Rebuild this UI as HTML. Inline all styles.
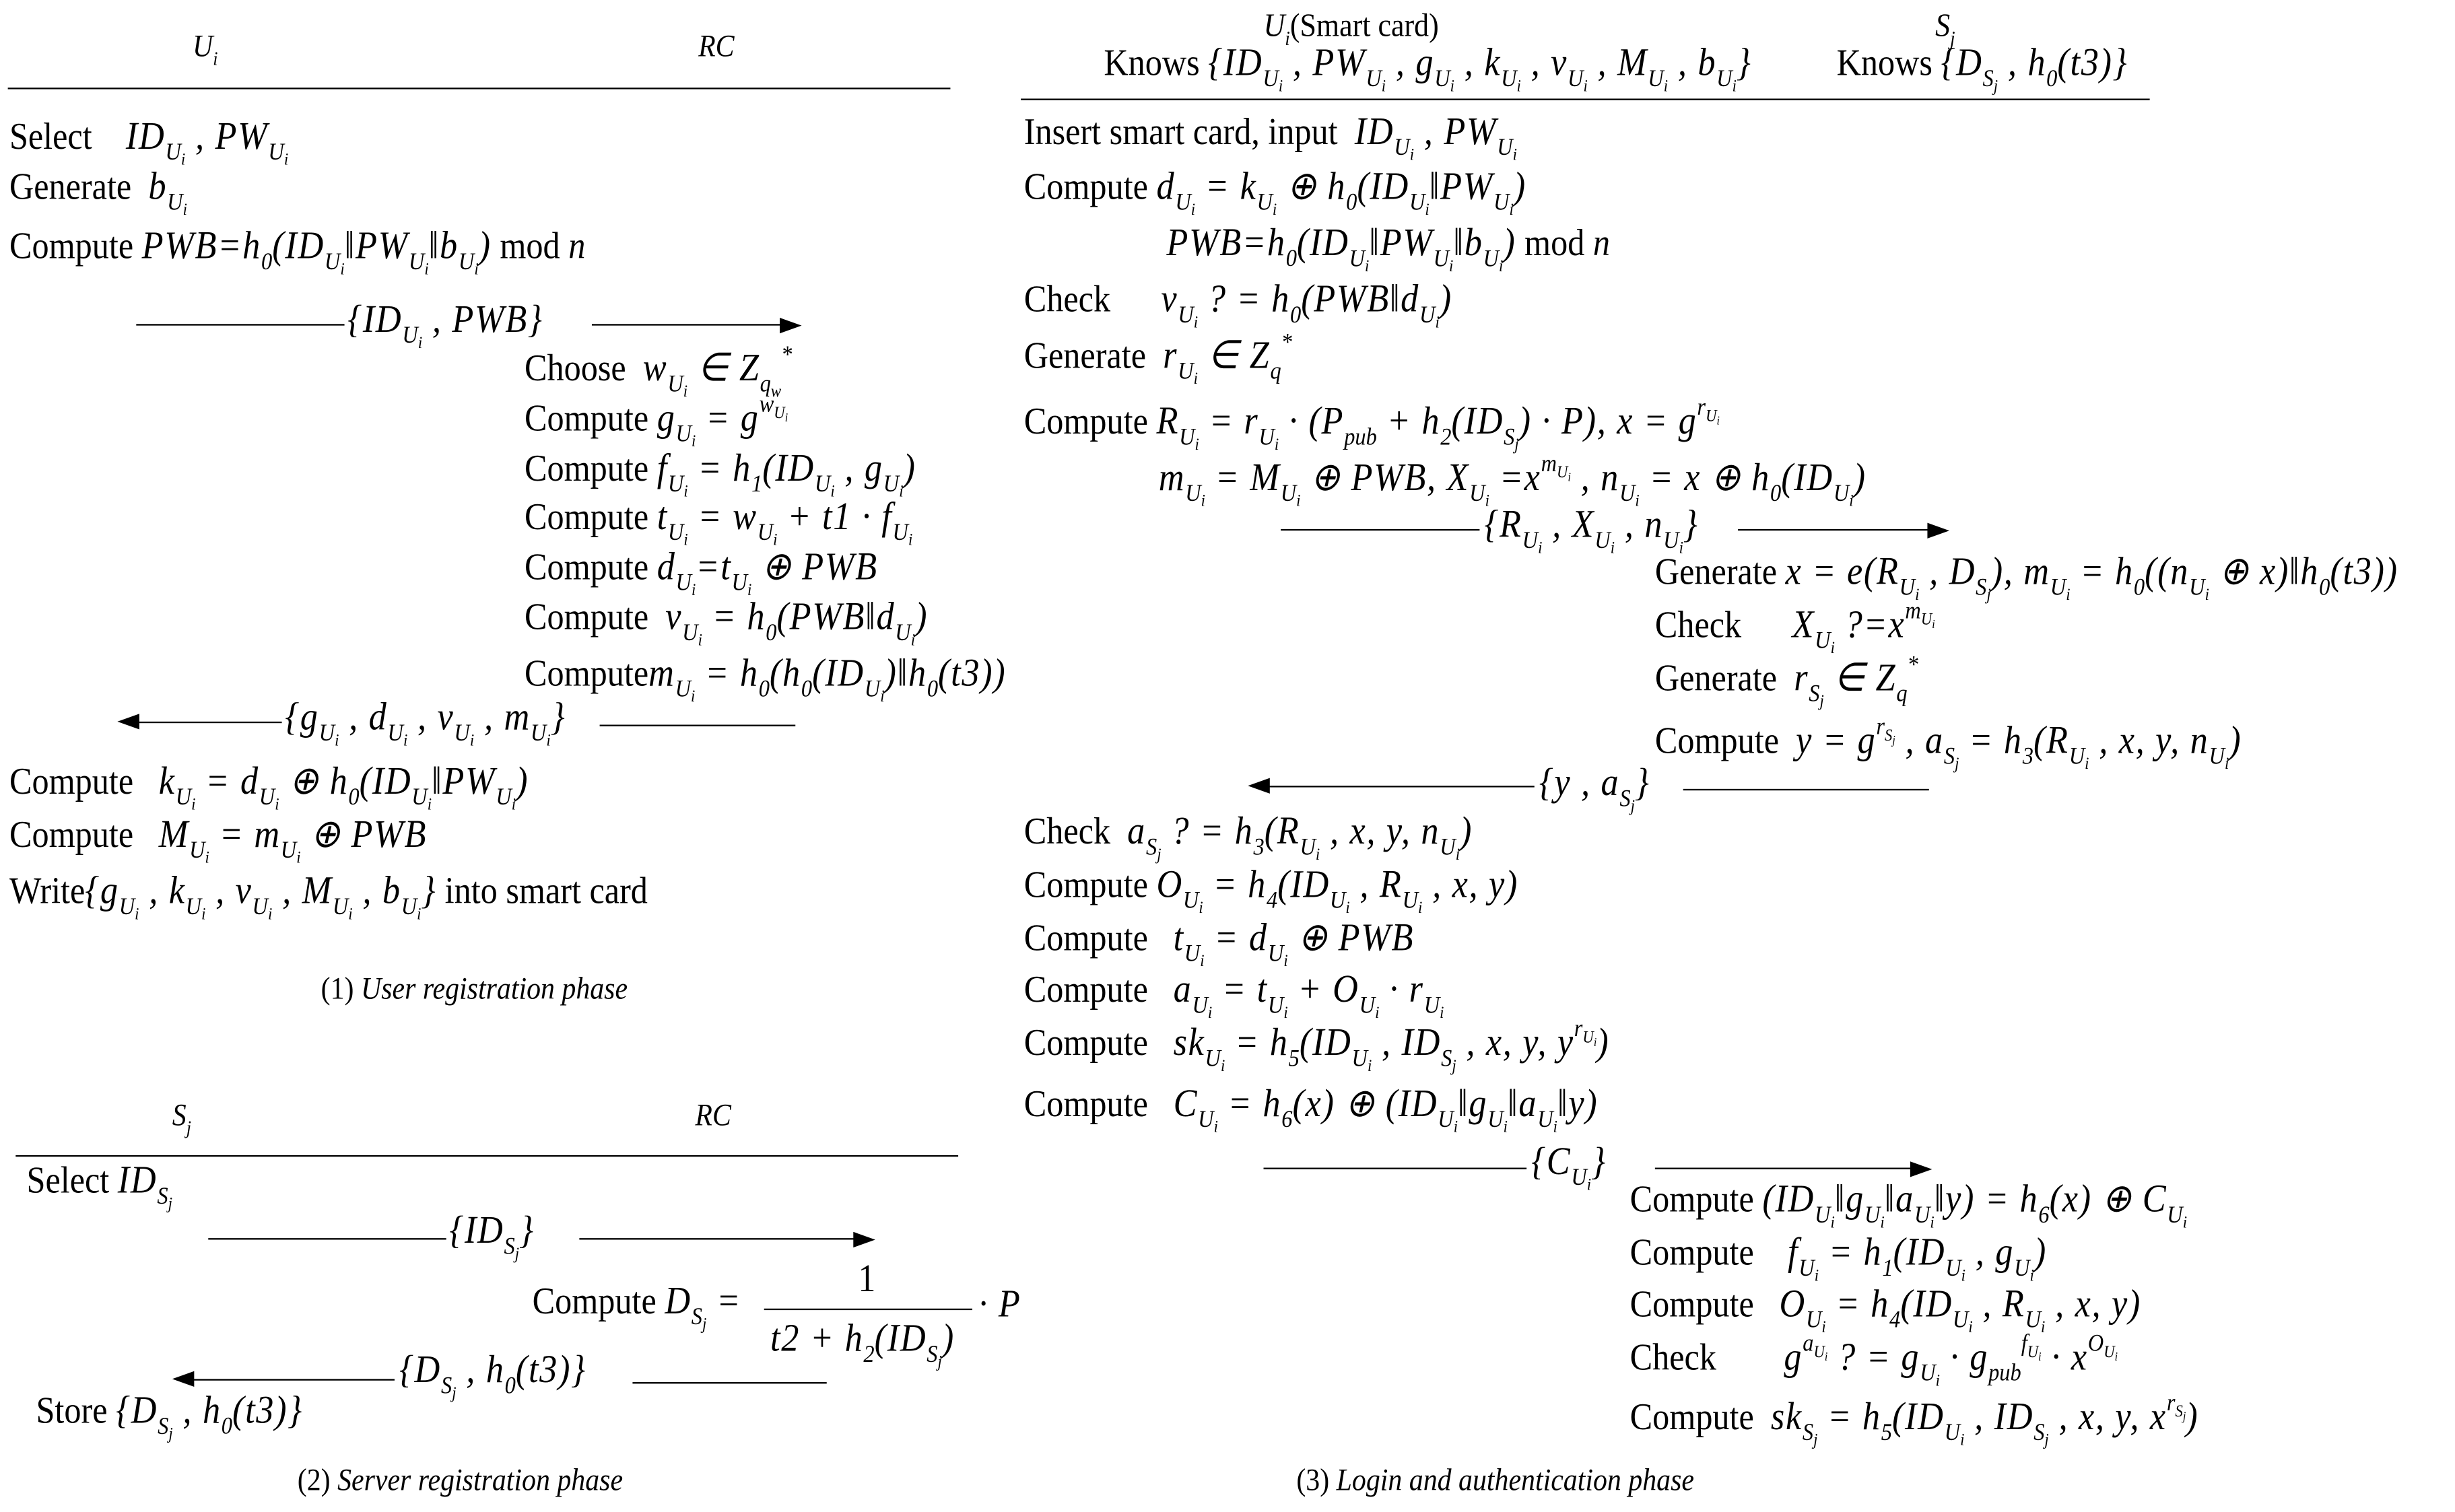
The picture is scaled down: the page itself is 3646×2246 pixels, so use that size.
<!DOCTYPE html>
<html><head><meta charset="utf-8"><style>
html,body{margin:0;padding:0;background:#fff;}
#w{position:absolute;left:0;top:0;width:1568px;height:966px;transform:scale(2.3253,2.3251);transform-origin:0 0;font-family:"Liberation Serif",serif;color:#000;}
.t{position:absolute;white-space:nowrap;font-size:24px;line-height:24px;transform:scaleX(.9);transform-origin:0 0;margin-top:-2px;}
.t i{font-style:italic;}
.m{font-style:italic;font-size:25px;letter-spacing:.8px;}
sub,sup{font-size:62%;line-height:0;letter-spacing:0;}
sub{vertical-align:-0.45em;}
sup{vertical-align:0.75em;}
sub sub{font-size:70%;vertical-align:-0.3em;}
sup sub{font-size:70%;vertical-align:-0.3em;}
.cap{font-size:20px;}
.l{position:absolute;height:0;border-top:1.6px solid #000;}
.ar{position:absolute;width:0;height:0;border-top:5px solid transparent;border-bottom:5px solid transparent;}
.r{border-left:14px solid #000;}
.lf{border-right:14px solid #000;}
</style></head><body><div id="w">

<!-- Section 1 -->
<div class="t" style="left:123px;top:20px;font-size:20px"><i>U<sub>i</sub></i></div>
<div class="t" style="left:446px;top:20px;font-size:20px"><i>RC</i></div>
<div class="l" style="left:5px;width:602px;top:56px"></div>
<div class="t" style="left:6px;top:78px">Select &nbsp;&nbsp;&nbsp;<span class="m">ID<sub>U<sub>i</sub></sub> , PW<sub>U<sub>i</sub></sub></span></div>
<div class="t" style="left:6px;top:110px">Generate &nbsp;<span class="m">b<sub>U<sub>i</sub></sub></span></div>
<div class="t" style="left:6px;top:148px">Compute <span class="m">PWB=h<sub>0</sub>(ID<sub>U<sub>i</sub></sub>‖PW<sub>U<sub>i</sub></sub>‖b<sub>U<sub>i</sub></sub>)</span> mod <i>n</i></div>
<div class="l" style="left:87px;width:133px;top:207px"></div>
<div class="t" style="left:222px;top:195px"><span class="m">{ID<sub>U<sub>i</sub></sub> , PWB}</span></div>
<div class="l" style="left:378px;width:122px;top:207px"></div><div class="ar r" style="left:498px;top:203px"></div>
<div class="t" style="left:335px;top:226px">Choose &nbsp;<span class="m">w<sub>U<sub>i</sub></sub> ∈ Z<sub>q<sub>w</sub></sub><sup>*</sup></span></div>
<div class="t" style="left:335px;top:258px">Compute <span class="m">g<sub>U<sub>i</sub></sub> = g<sup>w<sub>U<sub>i</sub></sub></sup></span></div>
<div class="t" style="left:335px;top:290px">Compute <span class="m">f<sub>U<sub>i</sub></sub> = h<sub>1</sub>(ID<sub>U<sub>i</sub></sub> , g<sub>U<sub>i</sub></sub>)</span></div>
<div class="t" style="left:335px;top:321px">Compute <span class="m">t<sub>U<sub>i</sub></sub> = w<sub>U<sub>i</sub></sub> + t1 · f<sub>U<sub>i</sub></sub></span></div>
<div class="t" style="left:335px;top:353px">Compute <span class="m">d<sub>U<sub>i</sub></sub>=t<sub>U<sub>i</sub></sub> ⊕ PWB</span></div>
<div class="t" style="left:335px;top:385px">Compute &nbsp;<span class="m">v<sub>U<sub>i</sub></sub> = h<sub>0</sub>(PWB‖d<sub>U<sub>i</sub></sub>)</span></div>
<div class="t" style="left:335px;top:421px">Compute<span class="m">m<sub>U<sub>i</sub></sub> = h<sub>0</sub>(h<sub>0</sub>(ID<sub>U<sub>i</sub></sub>)‖h<sub>0</sub>(t3))</span></div>
<div class="ar lf" style="left:75px;top:456px"></div><div class="l" style="left:87px;width:93px;top:461px"></div>
<div class="t" style="left:182px;top:449px"><span class="m">{g<sub>U<sub>i</sub></sub> , d<sub>U<sub>i</sub></sub> , v<sub>U<sub>i</sub></sub> , m<sub>U<sub>i</sub></sub>}</span></div>
<div class="l" style="left:383px;width:125px;top:463px"></div>
<div class="t" style="left:6px;top:490px">Compute &nbsp;&nbsp;<span class="m">k<sub>U<sub>i</sub></sub> = d<sub>U<sub>i</sub></sub> ⊕ h<sub>0</sub>(ID<sub>U<sub>i</sub></sub>‖PW<sub>U<sub>i</sub></sub>)</span></div>
<div class="t" style="left:6px;top:524px">Compute &nbsp;&nbsp;<span class="m">M<sub>U<sub>i</sub></sub> = m<sub>U<sub>i</sub></sub> ⊕ PWB</span></div>
<div class="t" style="left:6px;top:560px">Write<span class="m">{g<sub>U<sub>i</sub></sub> , k<sub>U<sub>i</sub></sub> , v<sub>U<sub>i</sub></sub> , M<sub>U<sub>i</sub></sub> , b<sub>U<sub>i</sub></sub>}</span> into smart card</div>
<div class="t cap" style="left:205px;top:622px">(1) <i>User registration phase</i></div>

<!-- Section 2 -->
<div class="t" style="left:110px;top:703px;font-size:20px"><i>S<sub>j</sub></i></div>
<div class="t" style="left:444px;top:703px;font-size:20px"><i>RC</i></div>
<div class="l" style="left:10px;width:602px;top:738px"></div>
<div class="t" style="left:17px;top:745px">Select <span class="m">ID<sub>S<sub>j</sub></sub></span></div>
<div class="l" style="left:133px;width:152px;top:791px"></div>
<div class="t" style="left:287px;top:777px"><span class="m">{ID<sub>S<sub>j</sub></sub>}</span></div>
<div class="l" style="left:370px;width:177px;top:791px"></div><div class="ar r" style="left:545px;top:787px"></div>
<div class="t" style="left:340px;top:822px">Compute <span class="m">D<sub>S<sub>j</sub></sub> =</span></div>
<div class="t" style="left:548px;top:808px"><span class="m" style="font-style:normal">1</span></div>
<div class="l" style="left:488px;width:133px;top:836px;border-top-width:1.3px"></div>
<div class="t" style="left:492px;top:846px"><span class="m">t2 + h<sub>2</sub>(ID<sub>S<sub>j</sub></sub>)</span></div>
<div class="t" style="left:625px;top:824px"><span class="m">· P</span></div>
<div class="ar lf" style="left:110px;top:876px"></div><div class="l" style="left:122px;width:130px;top:881px"></div>
<div class="t" style="left:255px;top:866px"><span class="m">{D<sub>S<sub>j</sub></sub> , h<sub>0</sub>(t3)}</span></div>
<div class="l" style="left:404px;width:124px;top:883px"></div>
<div class="t" style="left:23px;top:892px">Store <span class="m">{D<sub>S<sub>j</sub></sub> , h<sub>0</sub>(t3)}</span></div>
<div class="t cap" style="left:190px;top:936px">(2) <i>Server registration phase</i></div>

<!-- Section 3 -->
<div class="t" style="left:807px;top:6px;font-size:21px"><i>U<sub>i</sub></i>(Smart card)</div>
<div class="t" style="left:1236px;top:6px;font-size:21px"><i>S<sub>j</sub></i></div>
<div class="t" style="left:705px;top:31px">Knows <span class="m">{ID<sub>U<sub>i</sub></sub> , PW<sub>U<sub>i</sub></sub> , g<sub>U<sub>i</sub></sub> , k<sub>U<sub>i</sub></sub> , v<sub>U<sub>i</sub></sub> , M<sub>U<sub>i</sub></sub> , b<sub>U<sub>i</sub></sub>}</span></div>
<div class="t" style="left:1173px;top:31px">Knows <span class="m">{D<sub>S<sub>j</sub></sub> , h<sub>0</sub>(t3)}</span></div>
<div class="l" style="left:652px;width:721px;top:63px"></div>
<div class="t" style="left:654px;top:75px">Insert smart card, input &nbsp;<span class="m">ID<sub>U<sub>i</sub></sub> , PW<sub>U<sub>i</sub></sub></span></div>
<div class="t" style="left:654px;top:110px">Compute <span class="m">d<sub>U<sub>i</sub></sub> = k<sub>U<sub>i</sub></sub> ⊕ h<sub>0</sub>(ID<sub>U<sub>i</sub></sub>‖PW<sub>U<sub>i</sub></sub>)</span></div>
<div class="t" style="left:745px;top:146px"><span class="m">PWB=h<sub>0</sub>(ID<sub>U<sub>i</sub></sub>‖PW<sub>U<sub>i</sub></sub>‖b<sub>U<sub>i</sub></sub>)</span> mod <i>n</i></div>
<div class="t" style="left:654px;top:182px">Check &nbsp;&nbsp;&nbsp;&nbsp;&nbsp;<span class="m">v<sub>U<sub>i</sub></sub> ? = h<sub>0</sub>(PWB‖d<sub>U<sub>i</sub></sub>)</span></div>
<div class="t" style="left:654px;top:218px">Generate &nbsp;<span class="m">r<sub>U<sub>i</sub></sub> ∈ Z<sub>q</sub><sup>*</sup></span></div>
<div class="t" style="left:654px;top:260px">Compute <span class="m">R<sub>U<sub>i</sub></sub> = r<sub>U<sub>i</sub></sub> · (P<sub>pub</sub> + h<sub>2</sub>(ID<sub>S<sub>j</sub></sub>) · P), x = g<sup>r<sub>U<sub>i</sub></sub></sup></span></div>
<div class="t" style="left:740px;top:296px"><span class="m">m<sub>U<sub>i</sub></sub> = M<sub>U<sub>i</sub></sub> ⊕ PWB, X<sub>U<sub>i</sub></sub> =x<sup>m<sub>U<sub>i</sub></sub></sup> , n<sub>U<sub>i</sub></sub> = x ⊕ h<sub>0</sub>(ID<sub>U<sub>i</sub></sub>)</span></div>
<div class="l" style="left:818px;width:127px;top:338px"></div>
<div class="t" style="left:948px;top:326px"><span class="m">{R<sub>U<sub>i</sub></sub> , X<sub>U<sub>i</sub></sub> , n<sub>U<sub>i</sub></sub>}</span></div>
<div class="l" style="left:1110px;width:123px;top:338px"></div><div class="ar r" style="left:1231px;top:334px"></div>
<div class="t" style="left:1057px;top:356px">Generate <span class="m">x = e(R<sub>U<sub>i</sub></sub> , D<sub>S<sub>j</sub></sub>), m<sub>U<sub>i</sub></sub> = h<sub>0</sub>((n<sub>U<sub>i</sub></sub> ⊕ x)‖h<sub>0</sub>(t3))</span></div>
<div class="t" style="left:1057px;top:390px">Check &nbsp;&nbsp;&nbsp;&nbsp;&nbsp;<span class="m">X<sub>U<sub>i</sub></sub> ?=x<sup>m<sub>U<sub>i</sub></sub></sup></span></div>
<div class="t" style="left:1057px;top:424px">Generate &nbsp;<span class="m">r<sub>S<sub>j</sub></sub> ∈ Z<sub>q</sub><sup>*</sup></span></div>
<div class="t" style="left:1057px;top:464px">Compute &nbsp;<span class="m">y = g<sup>r<sub>S<sub>j</sub></sub></sup> , a<sub>S<sub>j</sub></sub> = h<sub>3</sub>(R<sub>U<sub>i</sub></sub> , x, y, n<sub>U<sub>i</sub></sub>)</span></div>
<div class="ar lf" style="left:797px;top:497px"></div><div class="l" style="left:809px;width:171px;top:502px"></div>
<div class="t" style="left:983px;top:491px"><span class="m">{y , a<sub>S<sub>j</sub></sub>}</span></div>
<div class="l" style="left:1075px;width:157px;top:504px"></div>
<div class="t" style="left:654px;top:522px">Check &nbsp;<span class="m">a<sub>S<sub>j</sub></sub> ? = h<sub>3</sub>(R<sub>U<sub>i</sub></sub> , x, y, n<sub>U<sub>i</sub></sub>)</span></div>
<div class="t" style="left:654px;top:556px">Compute <span class="m">O<sub>U<sub>i</sub></sub> = h<sub>4</sub>(ID<sub>U<sub>i</sub></sub> , R<sub>U<sub>i</sub></sub> , x, y)</span></div>
<div class="t" style="left:654px;top:590px">Compute &nbsp;&nbsp;<span class="m">t<sub>U<sub>i</sub></sub> = d<sub>U<sub>i</sub></sub> ⊕ PWB</span></div>
<div class="t" style="left:654px;top:623px">Compute &nbsp;&nbsp;<span class="m">a<sub>U<sub>i</sub></sub> = t<sub>U<sub>i</sub></sub> + O<sub>U<sub>i</sub></sub> · r<sub>U<sub>i</sub></sub></span></div>
<div class="t" style="left:654px;top:657px">Compute &nbsp;&nbsp;<span class="m">sk<sub>U<sub>i</sub></sub> = h<sub>5</sub>(ID<sub>U<sub>i</sub></sub> , ID<sub>S<sub>j</sub></sub> , x, y, y<sup>r<sub>U<sub>i</sub></sub></sup>)</span></div>
<div class="t" style="left:654px;top:696px">Compute &nbsp;&nbsp;<span class="m">C<sub>U<sub>i</sub></sub> = h<sub>6</sub>(x) ⊕ (ID<sub>U<sub>i</sub></sub>‖g<sub>U<sub>i</sub></sub>‖a<sub>U<sub>i</sub></sub>‖y)</span></div>
<div class="l" style="left:807px;width:168px;top:746px"></div>
<div class="t" style="left:978px;top:733px"><span class="m">{C<sub>U<sub>i</sub></sub>}</span></div>
<div class="l" style="left:1057px;width:165px;top:746px"></div><div class="ar r" style="left:1220px;top:742px"></div>
<div class="t" style="left:1041px;top:757px">Compute <span class="m">(ID<sub>U<sub>i</sub></sub>‖g<sub>U<sub>i</sub></sub>‖a<sub>U<sub>i</sub></sub>‖y) = h<sub>6</sub>(x) ⊕ C<sub>U<sub>i</sub></sub></span></div>
<div class="t" style="left:1041px;top:791px">Compute &nbsp;&nbsp;&nbsp;<span class="m">f<sub>U<sub>i</sub></sub> = h<sub>1</sub>(ID<sub>U<sub>i</sub></sub> , g<sub>U<sub>i</sub></sub>)</span></div>
<div class="t" style="left:1041px;top:824px">Compute &nbsp;&nbsp;<span class="m">O<sub>U<sub>i</sub></sub> = h<sub>4</sub>(ID<sub>U<sub>i</sub></sub> , R<sub>U<sub>i</sub></sub> , x, y)</span></div>
<div class="t" style="left:1041px;top:858px">Check &nbsp;&nbsp;&nbsp;&nbsp;&nbsp;&nbsp;&nbsp;<span class="m">g<sup>a<sub>U<sub>i</sub></sub></sup> ? = g<sub>U<sub>i</sub></sub> · g<sub>pub</sub><sup>f<sub>U<sub>i</sub></sub></sup> · x<sup>O<sub>U<sub>i</sub></sub></sup></span></div>
<div class="t" style="left:1041px;top:896px">Compute &nbsp;<span class="m">sk<sub>S<sub>j</sub></sub> = h<sub>5</sub>(ID<sub>U<sub>i</sub></sub> , ID<sub>S<sub>j</sub></sub> , x, y, x<sup>r<sub>S<sub>j</sub></sub></sup>)</span></div>
<div class="t cap" style="left:828px;top:936px">(3) <i>Login and authentication phase</i></div>

</div></body></html>
